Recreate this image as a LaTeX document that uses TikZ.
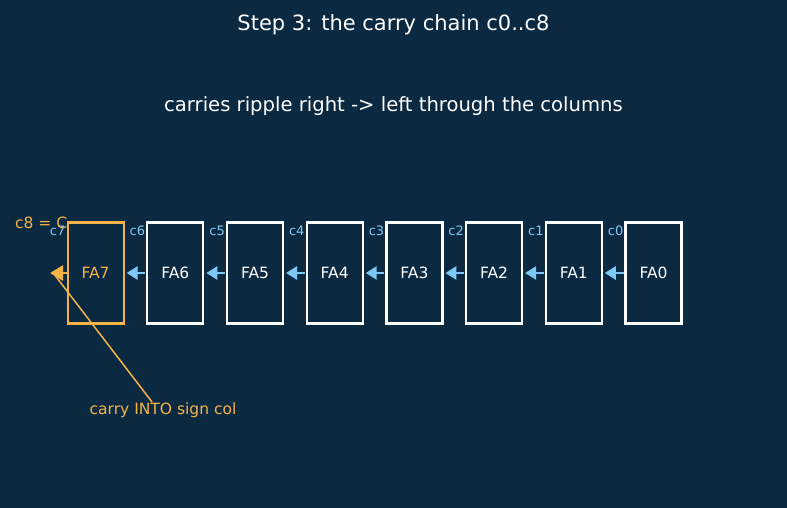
\documentclass[tikz,border=0pt]{standalone}
\usepackage{fontspec}
\setmainfont{DejaVu Sans}
\usetikzlibrary{arrows.meta}
\definecolor{bgnavy}{RGB}{11,42,66}
\definecolor{carryorange}{RGB}{245,178,70}
\definecolor{carryblue}{RGB}{125,200,245}
\begin{document}
\begin{tikzpicture}[
  x=1pt, y=-1pt,
  every node/.style={text=white},
  fabox/.style={line width=2.2pt, minimum width=56pt, minimum height=101pt,
    inner sep=0pt, outer sep=0pt, font=\fontsize{15.5}{18}\selectfont},
  clabel/.style={text=carryblue, font=\fontsize{13}{15}\selectfont, anchor=east, inner sep=1pt},
  ripple/.style={-{Triangle[length=11pt,width=13pt]}, draw=carryblue, fill=carryblue,
    line width=2.5pt, shorten <=2pt, shorten >=3pt}
]
\fill[bgnavy] (0,0) rectangle (787,508);
\useasboundingbox (0,0) rectangle (787,508);

% ---- titles ----
\node[font=\fontsize{21}{25}\selectfont] (title) at (393.5,25) {Step 3: the carry chain c0..c8};
\node[font=\fontsize{19.6}{23}\selectfont] (subtitle) at (393.5,106) {carries ripple right -> left through the columns};

% ---- full adders, FA7 (sign col) on the left ----
\foreach \i/\col in {0/white,1/white,2/white,3/white,4/white,5/white,6/white,7/carryorange} {
  \pgfmathsetmacro{\xc}{653.5-79.7*\i}
  \node[fabox, draw=\col, text=\col] (fa\i) at (\xc,273) {FA\i};
  \node[clabel] (c\i) at ([xshift=-1pt,yshift=-8pt]fa\i.north west) {c\i};
}

% ---- carries between columns ----
\foreach \i [evaluate=\i as \j using int(\i+1)] in {0,...,6}
  \draw[ripple] (fa\i.west) -- (fa\j.east);

% ---- carry out of FA7 ----
\coordinate (cout) at (50,273);
\draw[-{Triangle[length=13pt,width=15pt]}, draw=carryorange, fill=carryorange,
  line width=2.5pt] (fa7.west) -- (cout);
\node[text=carryorange, anchor=west, inner sep=0pt, font=\fontsize{15.5}{18}\selectfont] (c8) at (15,223) {c8 = C};

% ---- annotation ----
\node[text=carryorange, font=\fontsize{15.5}{18}\selectfont] (ann) at (163,410) {carry INTO sign col};
\draw[carryorange, line width=1.5pt] ([xshift=-11pt,yshift=-3pt]ann.north) -- ([xshift=4pt,yshift=-1pt]cout);

\end{tikzpicture}
\end{document}
